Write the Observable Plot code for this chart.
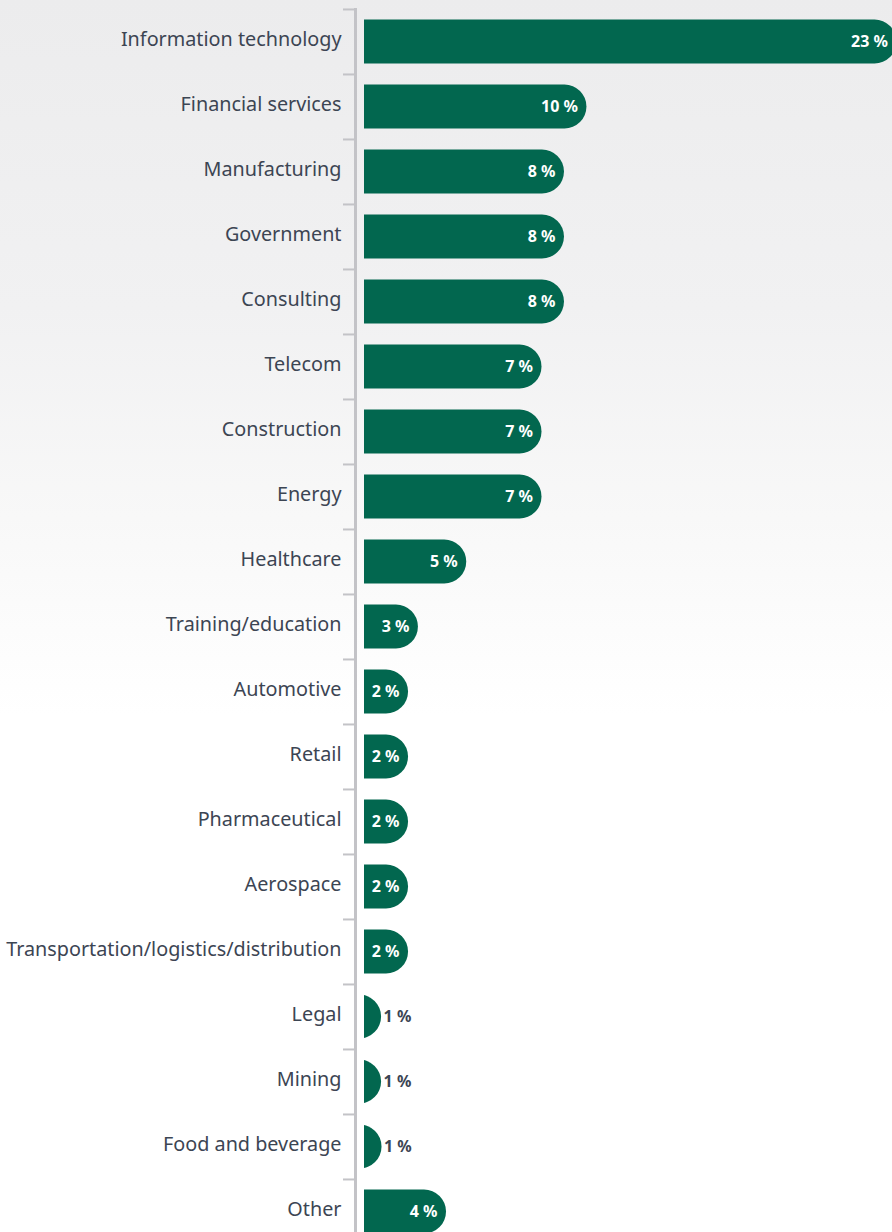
<!DOCTYPE html>
<html><head><meta charset="utf-8">
<script src="https://cdn.jsdelivr.net/npm/d3@7"></script>
<script src="https://cdn.jsdelivr.net/npm/@observablehq/plot@0.6"></script>
<style>
html,body{margin:0;padding:0;overflow:hidden;}
body{width:892px;height:1232px;background:linear-gradient(to bottom,#ececed 0%,#f1f1f2 25%,#f8f8f8 42%,#ffffff 58%,#ffffff 100%);font-family:"Noto Sans",sans-serif;}
#chart svg{display:block;}
</style></head><body><div id="chart"></div>
<script>
const categories = ["Information technology","Financial services","Manufacturing","Government","Consulting","Telecom","Construction","Energy","Healthcare","Training/education","Automotive","Retail","Pharmaceutical","Aerospace","Transportation/logistics/distribution","Legal","Mining","Food and beverage","Other"];
const values = [23.7, 9.9, 8.9, 8.9, 8.9, 7.9, 7.9, 7.9, 4.55, 2.4, 1.96, 1.96, 1.96, 1.96, 1.96, 0.76, 0.76, 0.78, 3.65];
const labels = ["23 %","10 %","8 %","8 %","8 %","7 %","7 %","7 %","5 %","3 %","2 %","2 %","2 %","2 %","2 %","1 %","1 %","1 %","4 %"];

const data = categories.map((c, i) => ({category: c, value: values[i], label: labels[i]}));
const inside = data.filter(d => d.value >= 1.5);
const outside = data.filter(d => d.value < 1.5);
const H = 1244, TOP = 8;
const step = (H - TOP) / categories.length;
const green = "#02674f", grey = "#c3c3c7", ink = "#3c4553";

const chart = Plot.plot({
  width: 892, height: H,
  marginTop: TOP, marginBottom: 0, marginLeft: 364, marginRight: 0,
  x: {domain: [0, 23.5], axis: null},
  y: {domain: categories, padding: 0, axis: null},
  style: {background: "transparent", fontFamily: "'Noto Sans', sans-serif"},
  marks: [
    Plot.ruleX([0], {dx: -9, stroke: grey, strokeWidth: 3}),
    Plot.ruleY(categories, {y: d => d, x1: 0, x2: 0, insetLeft: -21, insetRight: 9, dy: -step / 2, stroke: grey, strokeWidth: 2}),
    Plot.barX(data, {x: "value", y: "category", fill: green, rx: 22, ry: 22, insetTop: 10.5, insetBottom: 10.5, insetLeft: -40, clip: true}),
    Plot.text(categories, {x: 0, y: d => d, text: d => d, textAnchor: "end", dx: -23, dy: -2, fontSize: 19.8, fill: ink}),
    Plot.text(inside, {x: "value", y: "category", text: "label", textAnchor: "end", dx: -9, fill: "white", fontWeight: "bold", fontSize: 16}),
    Plot.text(outside, {x: "value", y: "category", text: "label", textAnchor: "start", dx: 2, fill: ink, fontWeight: "bold", fontSize: 16})
  ]
});
document.getElementById("chart").append(chart);
</script>
</body></html>
